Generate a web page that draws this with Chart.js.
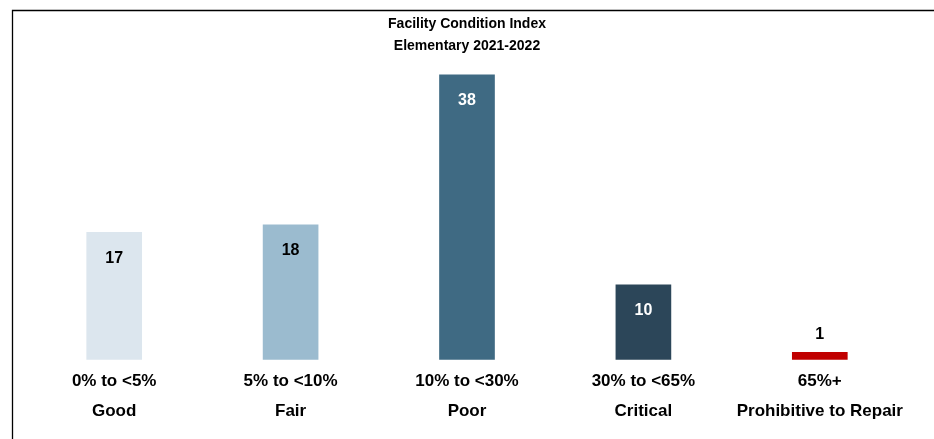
<!DOCTYPE html>
<html>
<head>
<meta charset="utf-8">
<title>Facility Condition Index</title>
<script src="https://cdn.jsdelivr.net/npm/chart.js@4.4.0/dist/chart.umd.min.js"></script>
<style>
    html, body { margin: 0; padding: 0; background: #fff; }
    #wrap { position: relative; width: 934px; height: 439px; }
</style>
</head>
<body>
<div id="wrap"><canvas id="fciChart" width="934" height="439"></canvas></div>
<script>
// FCI ranges and rating names (two-line axis labels)
var ranges = ['0% to <5%', '5% to <10%', '10% to <30%', '30% to <65%', '65%+'];
var ratings = ['Good', 'Fair', 'Poor', 'Critical', 'Prohibitive to Repair'];
// number of elementary schools in each band
var schoolCounts = [17, 18, 38, 10, 1];

var barColors = ['#dce6ee', '#9bbbcf', '#3f6a83', '#2c4659', '#c00000'];
var valueColors = ['#000000', '#000000', '#ffffff', '#ffffff', '#000000'];

var fontFamily = "'Liberation Sans', Arial, Helvetica, sans-serif";

var labels = [];
for (var i = 0; i < ranges.length; i++) {
    labels.push([ranges[i], ratings[i]]);
}

// white page + the thin frame line on the left/top
var framePlugin = {
    id: 'frame',
    beforeDraw: function (chart) {
        var ctx = chart.ctx;
        ctx.save();
        ctx.fillStyle = '#ffffff';
        ctx.fillRect(0, 0, chart.width, chart.height);
        ctx.strokeStyle = '#000000';
        ctx.lineWidth = 1.3;
        ctx.beginPath();
        ctx.moveTo(12.5, chart.height);
        ctx.lineTo(12.5, 10.5);
        ctx.lineTo(chart.width, 10.5);
        ctx.stroke();
        ctx.restore();
    }
};

// value labels: inside the bar near its top, or above it for tiny bars
var valuePlugin = {
    id: 'values',
    afterDatasetsDraw: function (chart) {
        var ctx = chart.ctx;
        var meta = chart.getDatasetMeta(0);
        var data = chart.data.datasets[0].data;
        ctx.save();
        ctx.font = 'bold 16px ' + fontFamily;
        ctx.textAlign = 'center';
        ctx.textBaseline = 'middle';
        meta.data.forEach(function (bar, idx) {
            var h = bar.base - bar.y;
            var y = h > 40 ? bar.y + 26 : bar.y - 18;
            ctx.fillStyle = valueColors[idx];
            ctx.fillText(String(data[idx]), bar.x, y);
        });
        ctx.restore();
    }
};

var ctx = document.getElementById('fciChart');
var fciChart = new Chart(ctx, {
    type: 'bar',
    data: {
        labels: labels,
        datasets: [{
            label: 'Schools',
            data: schoolCounts,
            backgroundColor: barColors,
            borderWidth: 0,
            barThickness: 55
        }]
    },
    options: {
        responsive: false,
        animation: false,
        devicePixelRatio: 1,
        layout: {
            padding: { left: 26, right: 26, top: 0, bottom: 7 }
        },
        plugins: {
            legend: { display: false },
            tooltip: { enabled: false },
            title: {
                display: true,
                text: ['Facility Condition Index', 'Elementary 2021-2022'],
                color: '#000000',
                font: { family: fontFamily, size: 14, weight: 'bold', lineHeight: 1.6 },
                padding: { top: 13, bottom: 2 }
            }
        },
        scales: {
            x: {
                grid: { display: false, drawTicks: false },
                border: { display: false },
                ticks: {
                    color: '#000000',
                    padding: 6,
                    maxRotation: 0,
                    autoSkip: false,
                    font: { family: fontFamily, size: 17, weight: 'bold', lineHeight: 1.77 }
                }
            },
            y: {
                display: false,
                min: 0,
                max: 40
            }
        }
    },
    plugins: [framePlugin, valuePlugin]
});
</script>
</body>
</html>
